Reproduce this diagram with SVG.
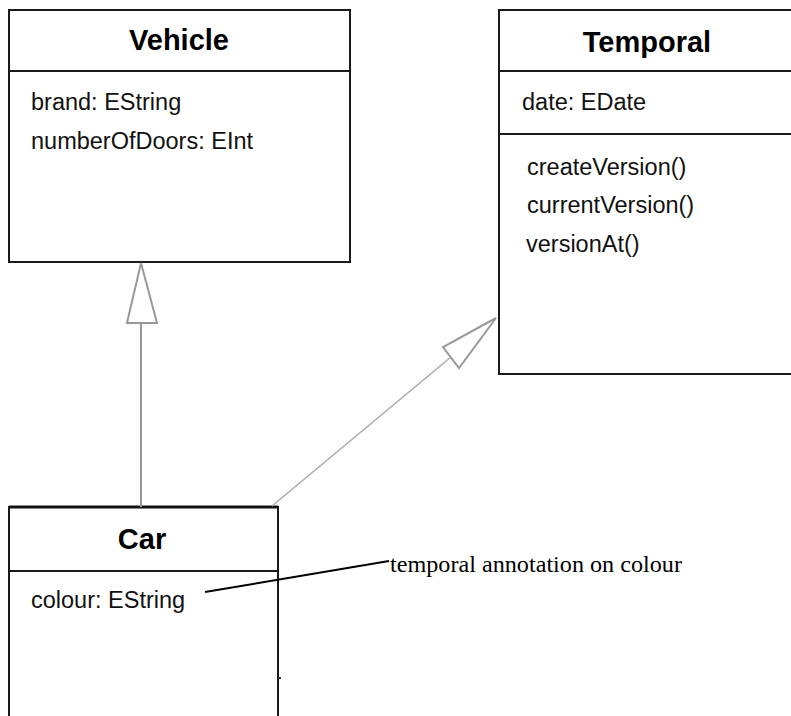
<svg xmlns="http://www.w3.org/2000/svg" width="791" height="716" viewBox="0 0 791 716">
<style>
.box{fill:#fff;stroke:#1a1a1a;stroke-width:2}
.div{stroke:#1a1a1a;stroke-width:2}
.title{font-family:"Liberation Sans",Arial,sans-serif;font-weight:bold;font-size:29px;fill:#000;text-anchor:middle}
.attr{font-family:"Liberation Sans",Arial,sans-serif;font-size:23.5px;fill:#111}
.note{font-family:"Liberation Serif","Times New Roman",serif;font-size:24px;fill:#000}
.gen{fill:none;stroke:#999;stroke-width:2}
.head{fill:#fff;stroke:#999;stroke-width:2}
</style>
<rect width="791" height="716" fill="#fff"/>
<g id="vehicle">
<rect class="box" x="9" y="10" width="341" height="252"/>
<line class="div" x1="9" y1="71" x2="350" y2="71"/>
<text class="title" x="179" y="50">Vehicle</text>
<text class="attr" x="31" y="110">brand: EString</text>
<text class="attr" x="31" y="149">numberOfDoors: EInt</text>
</g>
<g id="temporal">
<rect class="box" x="499" y="10" width="310" height="364"/>
<line class="div" x1="499" y1="71" x2="809" y2="71"/>
<line class="div" x1="499" y1="134" x2="809" y2="134"/>
<text class="title" x="647" y="52">Temporal</text>
<text class="attr" x="522" y="110">date: EDate</text>
<text class="attr" x="527" y="175">createVersion()</text>
<text class="attr" x="527" y="213">currentVersion()</text>
<text class="attr" x="526" y="252">versionAt()</text>
</g>
<g id="car">
<rect class="box" x="9" y="507" width="269" height="230"/>
<line x1="9" y1="507" x2="278" y2="507" stroke="#111" stroke-width="3"/>
<line class="div" x1="9" y1="571" x2="278" y2="571"/>
<line x1="278" y1="678" x2="281" y2="678" stroke="#333" stroke-width="2"/>
<text class="title" x="142" y="549">Car</text>
<text class="attr" x="31" y="608">colour: EString</text>
</g>
<g id="note">
<text class="note" x="390" y="572" textLength="292" lengthAdjust="spacingAndGlyphs">temporal annotation on colour</text>
</g>
<g id="connectors">
<line class="gen" x1="141" y1="507" x2="141" y2="323"/>
<polygon class="head" points="141,263 127,323 157,323"/>
<line x1="272" y1="506" x2="451" y2="357" stroke="#aaa" stroke-width="1.5"/>
<polygon class="head" points="496,318 443,347 459,368" stroke-width="1.5"/>
<line x1="205" y1="592" x2="389" y2="561" stroke="#000" stroke-width="2"/>
</g>
</svg>
